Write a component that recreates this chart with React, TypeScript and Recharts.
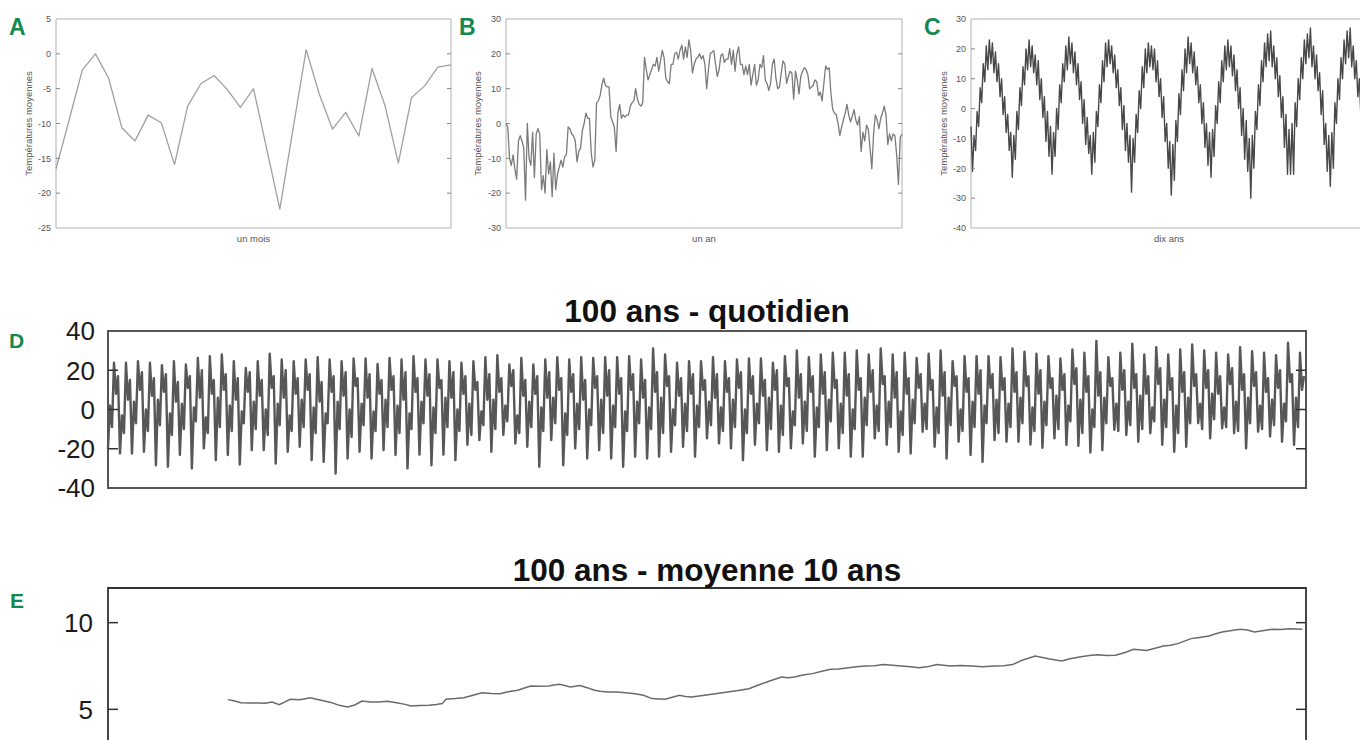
import React from 'react';
import { LineChart, Line, XAxis, YAxis, ReferenceArea } from 'recharts';

const FONT = '"Liberation Sans", Arial, Helvetica, sans-serif';
const GREEN = '#13884f';

// ---------- A : un mois ----------
const monthTemps = [-16.5, -9.5, -2.3, 0, -3.5, -10.6, -12.5, -8.8, -9.9, -15.9, -7.5, -4.3, -3.1, -5.1, -7.7, -5.0, -13.6, -22.3, -10.8, 0.6, -5.8, -10.8, -8.4, -11.8, -2.1, -7.5, -15.7, -6.3, -4.6, -1.9, -1.6];
const monthTicks = [-25, -20, -15, -10, -5, 0, 5];

// ---------- B : un an ----------
const yearTemps = [0, -1, -10, -12, -9, -13, -16, -5, -3.5, -5, -7, -22, 0, -10, -12, -2.5, -15.5, -3, -1.5, -3, -19, -15, -20, -7.5, -14.5, -11, -21, -8.5, -19, -14.5, -12.5, -10.5, -12.5, -9.5, -9, -1, -1.5, -3, -3.5, -5, -11, -8, -7, -2, 0, 3, 1.5, 1.5, -8.5, -12.5, -10.5, 6, 6.5, 8, 11, 13, 11, 10.5, 10.5, 2, 0.5, -1, -8, 3, 5.5, 1.5, 2.5, 1.8, 2.5, 2.5, 5, 6, 6.5, 10, 7, 5.5, 5, 6, 19, 15.5, 12.5, 14, 15.5, 17, 16.5, 19, 15, 18, 21, 19, 13, 12, 11.5, 17, 17, 20, 20.5, 18.5, 21, 22.5, 18.5, 22, 19, 24, 21, 14.5, 17, 18.5, 19, 20, 18.5, 19.5, 17, 10, 15.5, 20, 20.5, 21, 17, 13.5, 15.5, 19.5, 20, 17.5, 18.5, 18.5, 21.5, 17, 21, 15, 20, 22, 17, 17, 14, 16.5, 14, 17, 11, 14, 17, 11, 12.5, 17, 16, 19.5, 12.5, 11.5, 9.5, 11.5, 17, 18.5, 13, 10, 10.5, 14.5, 18, 17, 11.5, 13.5, 15, 14.5, 7, 15, 12.5, 8.5, 13.5, 15, 16, 15.5, 14, 10, 10.5, 11, 12.5, 12, 8, 9, 6.5, 11.5, 16.5, 15.5, 16, 8.5, 4, 3, 2.5, 0, -3.5, -1, 1, 3, 5.5, 2.5, 0.5, 2, 4, 1, -0.5, 2, -8, -2.5, -5, -0.5, -1.5, -7, -13, -3, 2.5, 1, -1.5, 1.5, 3, 5, 2.5, -6, -3, -5, -3, -3.5, -9, -17.5, -4, -3];
const yearTicks = [-30, -20, -10, 0, 10, 20, 30];

// ---------- C : dix ans (one array per year) ----------
const decade1 = [-6, -21, -9, -14, -1, -6, 7, 2, 15, 9, 21, 13, 23, 15, 22, 12, 19, 9, 15, 4, 10, -2, 4, -8, -2, -14];
const decade2 = [-8, -23, -9, -17, -1, -7, 7, 1, 14, 8, 20, 13, 23, 14, 21, 12, 18, 8, 16, 3, 10, -3, 4, -11, -1, -16];
const decade3 = [-6, -22, -8, -16, 0, -7, 8, 2, 15, 9, 21, 13, 24, 15, 22, 12, 19, 8, 15, 3, 9, -5, 3, -12, -3, -15];
const decade4 = [-9, -22, -8, -18, -1, -6, 8, 2, 16, 9, 22, 14, 23, 15, 21, 12, 18, 7, 13, 1, 7, -7, 1, -14, -5, -18];
const decade5 = [-9, -28, -10, -18, -2, -8, 6, 0, 14, 7, 20, 12, 22, 14, 21, 13, 20, 9, 16, 4, 10, -3, 4, -11, -5, -20];
const decade6 = [-11, -29, -12, -24, -4, -11, 5, -2, 13, 6, 20, 12, 24, 15, 22, 12, 19, 8, 14, 2, 8, -5, 2, -13, -5, -19];
const decade7 = [-8, -23, -7, -16, 1, -5, 9, 2, 16, 9, 21, 13, 23, 14, 21, 11, 18, 6, 13, 0, 7, -9, 0, -17, -4, -21];
const decade8 = [-10, -30, -9, -20, -1, -7, 8, 1, 16, 9, 22, 14, 25, 16, 26, 14, 21, 10, 17, 4, 11, -3, 4, -13, -2, -22];
const decade9 = [-7, -22, -5, -22, 2, -6, 10, 3, 17, 10, 23, 15, 25, 17, 27, 14, 21, 10, 18, 6, 12, -2, 6, -12, -5, -21];
const decade10 = [-9, -26, -8, -20, 2, -5, 10, 3, 17, 10, 23, 15, 26, 17, 27, 14, 21, 10, 16, 4, 10, -3, 4, -11, -3, -16];
const decadeTicks = [-40, -30, -20, -10, 0, 10, 20, 30];

// ---------- D : 100 ans - quotidien ----------
// per year: trough, spring rebound, late-winter dip, summer peak, summer dip, late-summer rebound
const centuryTroughs = [
  -20, -22.4, -22.4, -21.5, -28.4, -29.2, -23.2, -30, -19.8, -25.8, -23.2, -28, -20.7, -20.7, -27.5, -21.5, -19, -25.8, -26.7, -32.6, -25, -21.5, -25, -20.7, -23.2,
  -30, -23, -28.4, -23, -25.8, -18, -15.6, -21.5, -13, -17.3, -19, -29.2, -15.6, -28.4, -19.8, -25, -20.7, -25, -29.2, -24, -25, -24, -21.5, -19, -24,
  -14.7, -17.3, -19.8, -25.8, -18, -20.7, -21.5, -19.8, -17.3, -24, -20.7, -19.8, -24, -24, -14.7, -18, -21.5, -22.4, -11.3, -19, -25, -16.4, -23.2, -26.7, -15.6,
  -16.4, -16.4, -17.8, -19.5, -14.7, -18, -18.5, -21.9, -20.7, -10.4, -13, -16.4, -12.1, -18, -21.5, -19, -7, -14.7, -9.6, -12.1, -19.8, -11.3, -13.8, -16.4, -18,
];
const centurySpring = [
  2, -3, 4, 0, 5, -2, 3, 1, -4, 6, 2, -1, 4, 0, 3, -3, 5, 1, -2, 4, 0, 3, -1, 5, 2,
  -2, 4, 1, 6, 0, 3, -1, 5, 2, -3, 4, 1, 6, -2, 3, 0, 5, 2, -1, 4, 1, 6, 0, 3, 2,
  4, 1, 5, 0, 3, 6, 2, -1, 4, 1, 5, 3, 0, 6, 2, 4, -1, 5, 3, 1, 6, 0, 4, 2, 5,
  3, 6, 1, 4, 7, 2, 5, 0, 6, 3, 4, 7, 1, 5, 2, 6, 3, 8, 1, 4, 6, 2, 5, 3, 6,
];
const centuryWinterDip = [
  -9, -12, -7, -11, -8, -13, -10, -6, -12, -9, -11, -7, -10, -13, -8, -11, -9, -12, -7, -10, -14, -8, -11, -9, -12,
  -10, -7, -12, -9, -11, -13, -8, -10, -6, -12, -9, -11, -7, -13, -10, -8, -12, -9, -11, -7, -10, -12, -8, -11, -9,
  -8, -11, -9, -12, -7, -10, -13, -8, -11, -9, -6, -12, -10, -8, -11, -9, -13, -7, -10, -12, -8, -11, -9, -7, -12,
  -9, -7, -11, -8, -10, -6, -12, -9, -7, -11, -8, -10, -6, -9, -12, -7, -10, -5, -9, -11, -7, -10, -8, -6, -9,
];
const centuryPeaks = [
  23.8, 23.8, 24.6, 23.8, 22.6, 24.6, 22.9, 26.3, 27.2, 28, 24.6, 21.2, 24.6, 28.4, 25.5, 24.6, 25.5, 26.7, 25.5, 24.6, 26, 26, 23.2, 26.3, 25.5,
  27.2, 25.5, 25.5, 24.6, 23.8, 24.6, 26.7, 27.7, 22.9, 26.3, 22.9, 25.5, 26.7, 25.5, 26.7, 26.3, 26.7, 26.7, 27.2, 25.5, 31.1, 28, 23.8, 24.6, 24.6,
  26.7, 24.6, 25.5, 26, 26, 23.8, 27.2, 30.1, 26.7, 28, 28.9, 28.9, 30.1, 28, 31.1, 28, 28.9, 26.3, 28.4, 30.1, 24.6, 27.2, 27.2, 27.2, 26.7,
  31.1, 29.4, 28.4, 27.2, 26, 30.6, 28.9, 34.9, 26.7, 28.9, 33.5, 28, 31.8, 28, 30.6, 33.2, 30.1, 28.9, 28, 31.8, 29.7, 28.9, 27.7, 34, 28.9,
];
const centuryAutumn = [
  8, 5, 10, 7, 9, 4, 11, 6, 8, 10, 5, 9, 7, 11, 6, 8, 10, 4, 9, 7, 12, 6, 8, 10, 5,
  9, 7, 11, 6, 8, 10, 5, 9, 12, 7, 8, 6, 10, 9, 5, 11, 7, 8, 10, 6, 9, 12, 7, 8, 10,
  6, 9, 11, 8, 7, 10, 12, 6, 9, 8, 11, 7, 10, 9, 13, 6, 8, 11, 10, 7, 12, 9, 8, 11, 10,
  9, 12, 8, 11, 10, 13, 9, 7, 12, 10, 11, 8, 13, 10, 9, 12, 11, 8, 13, 10, 12, 9, 11, 14, 10,
];
const centurySummerRebound = [
  17, 15, 19, 16, 18, 14, 17, 20, 15, 18, 16, 19, 15, 17, 20, 16, 18, 14, 17, 19, 16, 18, 15, 17, 19,
  16, 18, 15, 19, 17, 14, 18, 16, 20, 15, 17, 19, 16, 18, 15, 17, 20, 16, 18, 15, 19, 17, 16, 18, 15,
  18, 16, 19, 17, 15, 20, 16, 18, 17, 19, 15, 18, 16, 20, 17, 19, 16, 18, 15, 19, 17, 16, 20, 18, 16,
  19, 17, 20, 16, 18, 21, 17, 19, 16, 20, 18, 17, 21, 16, 19, 18, 20, 17, 21, 18, 19, 16, 20, 18, 17,
];
const centuryTicks = [-40, -20, 0, 20, 40];

// ---------- E : 100 ans - moyenne 10 ans ----------
const avgYears = [
  10.0, 10.5, 11.1, 11.8, 12.6, 13.1, 13.7, 14.3, 14.7, 15.2, 16.0, 16.9, 17.3, 17.8, 18.6, 19.3, 20.0, 20.6, 21.2, 21.9,
  22.6, 23.3, 24.1, 24.7, 25.3, 26.0, 26.8, 27.4, 27.9, 28.2, 29.0, 29.7, 30.4, 31.2, 32.0, 32.7, 33.4, 34.2, 34.7, 35.3,
  36.0, 36.8, 37.2, 37.7, 38.6, 39.4, 40.0, 40.6, 41.1, 41.7, 42.5, 43.2, 44.0, 44.7, 45.4, 46.0, 46.5, 47.1, 47.7, 48.2,
  48.7, 49.8, 50.7, 51.7, 52.6, 53.5, 54.3, 55.0, 56.2, 56.8, 57.3, 58.0, 58.8, 59.6, 60.3, 61.0, 61.8, 62.5, 63.2, 64.0,
  64.7, 65.5, 66.2, 67.0, 67.7, 68.5, 69.2, 70.3, 71.2, 72.1, 73.0, 74.0, 74.8, 75.5, 76.3, 77.4, 78.5, 79.6, 80.3, 81.1,
  81.9, 82.6, 83.4, 84.1, 84.9, 85.6, 86.7, 87.4, 88.1, 88.7, 89.3, 90.4, 91.1, 91.9, 92.4, 93.0, 93.8, 94.5, 95.1, 95.7,
  96.5, 97.2, 97.9, 98.6, 99.7,
];
const avgTemps = [
  5.56, 5.5, 5.38, 5.36, 5.37, 5.35, 5.42, 5.27, 5.4, 5.58, 5.55, 5.67, 5.6, 5.52, 5.4, 5.23, 5.13, 5.25, 5.48, 5.43,
  5.42, 5.46, 5.38, 5.3, 5.19, 5.22, 5.23, 5.28, 5.33, 5.58, 5.62, 5.67, 5.8, 5.96, 5.92, 5.9, 6.02, 6.1, 6.22, 6.35,
  6.33, 6.35, 6.4, 6.44, 6.29, 6.38, 6.25, 6.1, 6.05, 6.0, 6.0, 5.96, 5.9, 5.81, 5.62, 5.6, 5.58, 5.7, 5.81, 5.74,
  5.71, 5.81, 5.9, 6.0, 6.08, 6.19, 6.4, 6.58, 6.87, 6.82, 6.87, 6.98, 7.06, 7.2, 7.31, 7.33, 7.4, 7.46, 7.5, 7.52,
  7.58, 7.55, 7.5, 7.45, 7.4, 7.47, 7.58, 7.5, 7.53, 7.5, 7.46, 7.5, 7.52, 7.58, 7.83, 8.08, 7.92, 7.79, 7.92, 8.02,
  8.1, 8.15, 8.1, 8.12, 8.28, 8.46, 8.4, 8.52, 8.65, 8.7, 8.79, 9.08, 9.15, 9.23, 9.35, 9.46, 9.55, 9.62, 9.58, 9.46,
  9.55, 9.62, 9.6, 9.65, 9.62,
];
const avgTicks = [5, 10];

// ---------- tables ----------
const monthData = monthTemps.map((v, i) => ({ i, v }));
const yearData = yearTemps.map((v, i) => ({ i, v }));
const decadeData = [decade1, decade2, decade3, decade4, decade5, decade6, decade7, decade8, decade9, decade10]
  .flat()
  .map((v, i) => ({ i, v }));
const centuryData: { i: number; v: number }[] = [];
centuryTroughs.forEach((t, y) => {
  [t, centurySpring[y], centuryWinterDip[y], centuryPeaks[y], centuryAutumn[y], centurySummerRebound[y]].forEach((v) => {
    centuryData.push({ i: centuryData.length, v });
  });
});
const avgData = avgYears.map((yr, k) => ({ yr, v: avgTemps[k] }));

type TickCfg = {
  fontSize: number;
  color: string;
  gap: number;
  len: number;
  tickColor: string;
  tickWidth: number;
  plotWidth: number;
  ends: number[];
};

function makeTick(cfg: TickCfg) {
  return (props: any) => {
    const { x, y, payload } = props;
    const ax = x + cfg.gap;
    const inner = !cfg.ends.includes(payload.value);
    return (
      <g>
        <text x={x} y={y} dy="0.36em" textAnchor="end" fontSize={cfg.fontSize} fill={cfg.color} fontFamily={FONT}>
          {payload.value}
        </text>
        {inner && (
          <line x1={ax} x2={ax + cfg.len} y1={y} y2={y} stroke={cfg.tickColor} strokeWidth={cfg.tickWidth} />
        )}
        {inner && (
          <line
            x1={ax + cfg.plotWidth - cfg.len}
            x2={ax + cfg.plotWidth}
            y1={y}
            y2={y}
            stroke={cfg.tickColor}
            strokeWidth={cfg.tickWidth}
          />
        )}
      </g>
    );
  };
}

type SmallProps = {
  left: number;
  data: { i: number; v: number }[];
  domain: [number, number];
  ticks: number[];
  xLabel: string;
  marginLeft: number;
  marginRight: number;
  labelOffset: number;
  stroke: string;
  strokeWidth: number;
};

function SmallPanel(p: SmallProps) {
  const width = 460;
  const height = 250;
  const yW = 40;
  const plotW = width - p.marginLeft - yW - p.marginRight;
  const n = p.data.length;
  const textStyle = { fontSize: 9.5, fill: '#555', fontFamily: FONT };
  return (
    <div style={{ position: 'absolute', left: p.left, top: 0 }}>
      <LineChart width={width} height={height} data={p.data} margin={{ top: 19, right: p.marginRight, bottom: 2, left: p.marginLeft }}>
        <XAxis
          type="number"
          dataKey="i"
          domain={[0, n - 1]}
          tick={false}
          tickLine={false}
          axisLine={false}
          height={20}
          label={{ value: p.xLabel, position: 'insideTop', offset: 7, style: textStyle }}
        />
        <YAxis
          type="number"
          domain={p.domain}
          ticks={p.ticks}
          interval={0}
          width={yW}
          tickSize={0}
          tickMargin={5}
          axisLine={false}
          tickLine={false}
          tick={makeTick({ fontSize: 9, color: '#555', gap: 5, len: 4, tickColor: '#888', tickWidth: 1, plotWidth: plotW, ends: [p.domain[0], p.domain[1]] })}
          label={{ value: 'Températures moyennes', angle: -90, position: 'insideLeft', offset: p.labelOffset, style: { ...textStyle, textAnchor: 'middle' } }}
        />
        <ReferenceArea x1={0} x2={n - 1} y1={p.domain[0]} y2={p.domain[1]} fill="none" stroke="#b0b0b0" strokeWidth={1} ifOverflow="visible" />
        <Line type="linear" dataKey="v" stroke={p.stroke} strokeWidth={p.strokeWidth} strokeLinejoin="round" dot={false} isAnimationActive={false} />
      </LineChart>
    </div>
  );
}

function CenturyPanel() {
  const width = 1360;
  const height = 225;
  const mL = 38;
  const mR = 54;
  const yW = 70;
  const plotW = width - mL - mR - yW;
  return (
    <div style={{ position: 'absolute', left: 0, top: 290 }}>
      <LineChart width={width} height={height} data={centuryData} margin={{ top: 41, right: mR, bottom: 27, left: mL }}>
        <XAxis type="number" dataKey="i" domain={[0, 600]} hide />
        <YAxis
          type="number"
          domain={[-40, 40]}
          ticks={centuryTicks}
          interval={0}
          width={yW}
          tickSize={0}
          tickMargin={13}
          axisLine={false}
          tickLine={false}
          tick={makeTick({ fontSize: 26, color: '#1a1a1a', gap: 13, len: 10, tickColor: '#333', tickWidth: 1.5, plotWidth: plotW, ends: [-40, 40] })}
        />
        <ReferenceArea x1={0} x2={600} y1={-40} y2={40} fill="none" stroke="#555" strokeWidth={2} ifOverflow="visible" />
        <Line type="linear" dataKey="v" stroke="#575757" strokeWidth={2.4} strokeLinejoin="round" dot={false} isAnimationActive={false} />
      </LineChart>
    </div>
  );
}

function AveragePanel() {
  const width = 1360;
  const height = 262;
  const mL = 38;
  const mR = 54;
  const yW = 70;
  const plotW = width - mL - mR - yW;
  return (
    <div style={{ position: 'absolute', left: 0, top: 550 }}>
      <LineChart width={width} height={height} data={avgData} margin={{ top: 38, right: mR, bottom: 16, left: mL }}>
        <XAxis type="number" dataKey="yr" domain={[0, 100]} hide />
        <YAxis
          type="number"
          domain={[0, 12]}
          ticks={avgTicks}
          interval={0}
          width={yW}
          tickSize={0}
          tickMargin={15}
          axisLine={false}
          tickLine={false}
          tick={makeTick({ fontSize: 26, color: '#1a1a1a', gap: 15, len: 10, tickColor: '#333', tickWidth: 1.5, plotWidth: plotW, ends: [0, 12] })}
        />
        <ReferenceArea x1={0} x2={100} y1={0} y2={12} fill="none" stroke="#333" strokeWidth={1.8} ifOverflow="visible" />
        <Line type="linear" dataKey="v" stroke="#6a6a6a" strokeWidth={1.5} dot={false} isAnimationActive={false} />
      </LineChart>
    </div>
  );
}

export default function App() {
  return (
    <div style={{ position: 'absolute', left: 0, top: 0, width: 1360, height: 740, overflow: 'hidden', background: '#fff' }}>
      <SmallPanel left={0} data={monthData} domain={[-25, 5]} ticks={monthTicks} xLabel="un mois" marginLeft={16} marginRight={9} labelOffset={13} stroke="#a0a0a0" strokeWidth={1.3} />
      <SmallPanel left={455} data={yearData} domain={[-30, 30]} ticks={yearTicks} xLabel="un an" marginLeft={11} marginRight={13} labelOffset={12} stroke="#7a7a7a" strokeWidth={1.3} />
      <SmallPanel left={915} data={decadeData} domain={[-40, 30]} ticks={decadeTicks} xLabel="dix ans" marginLeft={16} marginRight={8} labelOffset={13} stroke="#484848" strokeWidth={1.4} />
      <CenturyPanel />
      <AveragePanel />
      <svg width={1360} height={740} style={{ position: 'absolute', left: 0, top: 0, pointerEvents: 'none' }}>
        <g fontFamily={FONT} fontWeight="bold" fill={GREEN}>
          <text x={9} y={35} fontSize={23}>A</text>
          <text x={459} y={35} fontSize={23}>B</text>
          <text x={924} y={35} fontSize={23}>C</text>
          <text x={9} y={348} fontSize={21}>D</text>
          <text x={10} y={608} fontSize={21}>E</text>
        </g>
        <g fontFamily={FONT} fontWeight="bold" fill="#111" textAnchor="middle">
          <text x={707} y={322} fontSize={31.5}>100 ans - quotidien</text>
          <text x={707} y={581} fontSize={31.5}>100 ans - moyenne 10 ans</text>
        </g>
      </svg>
    </div>
  );
}
